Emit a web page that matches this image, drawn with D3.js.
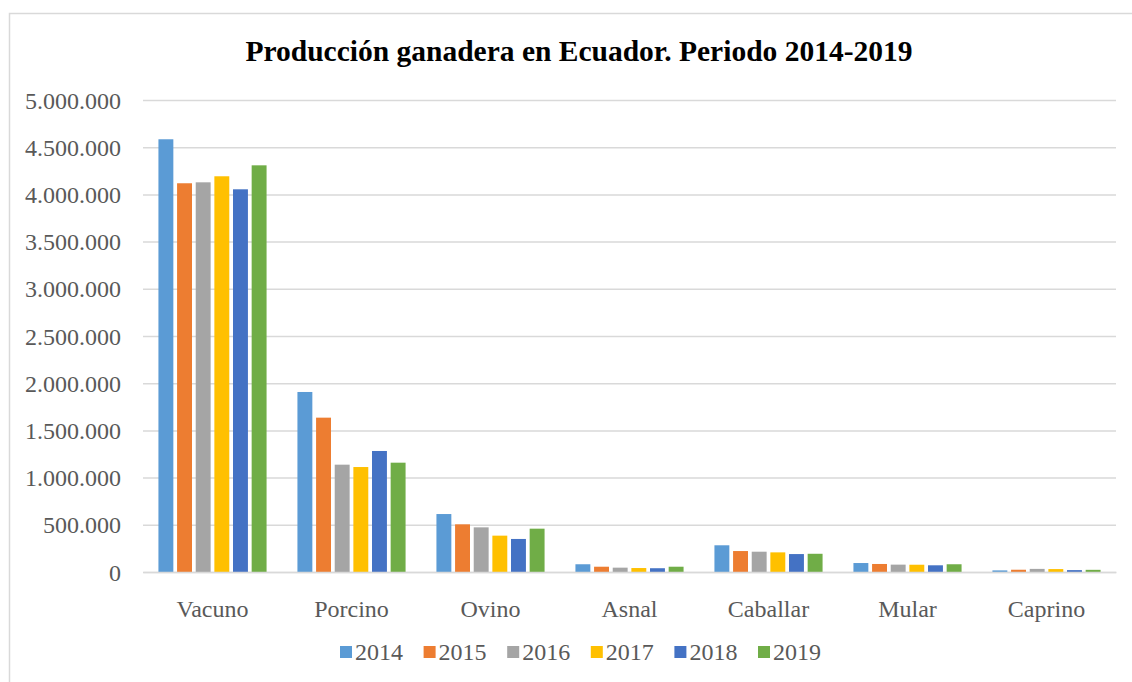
<!DOCTYPE html>
<html>
<head>
<meta charset="utf-8">
<script src="https://cdn.jsdelivr.net/npm/d3@7"></script>
<style>
  body { margin: 0; background: #fff; }
  text { font-family: "Liberation Serif", "Times New Roman", serif; }
</style>
</head>
<body>
<svg id="chart" width="1132" height="682"></svg>
<script>
const categories = ["Vacuno", "Porcino", "Ovino", "Asnal", "Caballar", "Mular", "Caprino"];
const years = ["2014", "2015", "2016", "2017", "2018", "2019"];
const colors = ["#5b9bd5", "#ed7d31", "#a5a5a5", "#ffc000", "#4472c4", "#70ad47"];
// one array per year, in category order
const v2014 = [4584000, 1907000, 614000, 82000, 283000, 95000, 17000];
const v2015 = [4118000, 1635000, 505000, 56000, 222000, 85000, 24000];
const v2016 = [4128000, 1137000, 473000, 46000, 215000, 78000, 33000];
const v2017 = [4192000, 1112000, 385000, 42000, 208000, 77000, 31000];
const v2018 = [4054000, 1282000, 350000, 40000, 190000, 71000, 20000];
const v2019 = [4308000, 1158000, 459000, 56000, 193000, 82000, 23000];
const series = [v2014, v2015, v2016, v2017, v2018, v2019];
const yTicks = [0, 500000, 1000000, 1500000, 2000000, 2500000, 3000000, 3500000, 4000000, 4500000, 5000000];

const svg = d3.select("#chart");
const [pLeft, pRight, pTop, pBottom] = [143, 1116, 100, 572];

// chart area border (runs off the right / bottom edge)
svg.append("rect")
  .attr("x", 9.5).attr("y", 13.5)
  .attr("width", 1200).attr("height", 800)
  .attr("fill", "none").attr("stroke", "#d9d9d9").attr("stroke-width", 1.5);

svg.append("text")
  .attr("x", 579).attr("y", 61)
  .attr("text-anchor", "middle")
  .attr("font-size", 29.5).attr("font-weight", "bold")
  .attr("fill", "#000")
  .text("Producción ganadera en Ecuador. Periodo 2014-2019");

let y = d3.scaleLinear().domain([0, 5000000]).range([pBottom, pTop]);
let x0 = d3.scaleBand().domain(categories).range([pLeft, pRight]).paddingInner(0.222).paddingOuter(0.111);
let x1 = d3.scaleBand().domain(years).range([0, x0.bandwidth()]).paddingInner(0.2);

let fmt = d3.formatLocale({ decimal: ",", thousands: ".", grouping: [3], currency: ["", ""] }).format(",d");

// gridlines
svg.append("g")
  .attr("transform", `translate(${pLeft},0)`)
  .call(d3.axisLeft(y).tickValues(yTicks).tickSize(-(pRight - pLeft)).tickFormat(fmt).tickPadding(22))
  .call(g => g.select(".domain").remove())
  .call(g => g.selectAll(".tick line").attr("stroke", "#d9d9d9").attr("stroke-width", 1.5))
  .call(g => g.selectAll(".tick text")
    .attr("font-family", "Liberation Serif, Times New Roman, serif")
    .attr("font-size", 24).attr("fill", "#595959").attr("dy", "0.34em"));

// bars
for (let [si, vals] of series.entries()) {
  svg.append("g")
    .selectAll("rect")
    .data(vals)
    .join("rect")
    .attr("x", (d, i) => x0(categories[i]) + x1(years[si]))
    .attr("y", d => y(d))
    .attr("width", x1.bandwidth())
    .attr("height", d => pBottom - y(d))
    .attr("fill", colors[si]);
}

// category axis
svg.append("g")
  .attr("transform", `translate(0,${pBottom})`)
  .call(d3.axisBottom(x0).tickSize(0).tickPadding(28))
  .call(g => g.select(".domain").attr("stroke", "#d9d9d9").attr("stroke-width", 1.5))
  .call(g => g.selectAll(".tick text")
    .attr("font-family", "Liberation Serif, Times New Roman, serif")
    .attr("font-size", 24).attr("fill", "#595959"));

// legend
let legend = svg.append("g");
for (let [i, yr] of years.entries()) {
  let lx = 340 + i * 83.6;
  legend.append("rect")
    .attr("x", lx).attr("y", 646).attr("width", 12).attr("height", 12)
    .attr("fill", colors[i]);
  legend.append("text")
    .attr("x", lx + 15).attr("y", 660)
    .attr("font-size", 24).attr("fill", "#595959")
    .text(yr);
}
</script>
</body>
</html>
